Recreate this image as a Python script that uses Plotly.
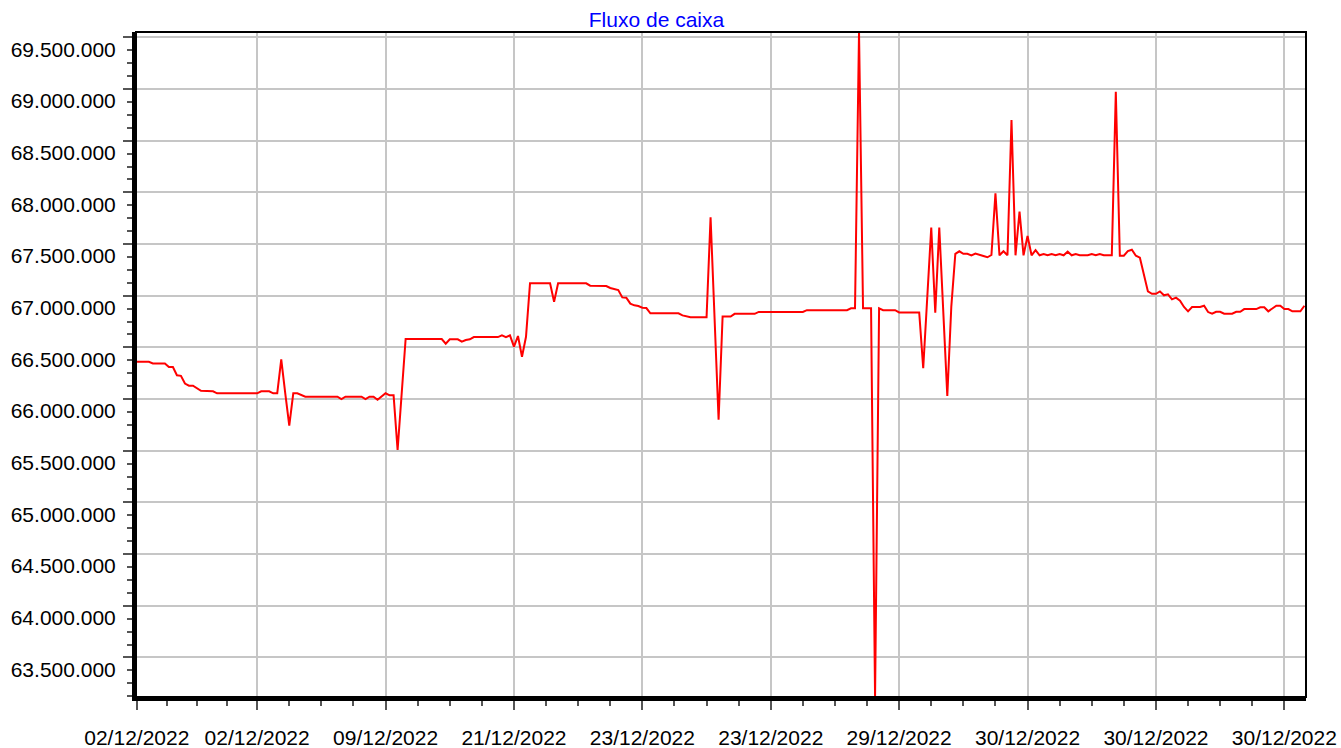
import plotly.graph_objects as go

# ---- data (vertices of the cash-flow line, x = sequential record index) ----
indice = [0, 3, 4, 7, 8, 9, 10, 11, 12, 13, 14, 16, 19, 20, 30, 31, 33, 34, 35, 36,
          37, 38, 39, 40, 42, 50, 51, 52, 56, 57, 58, 59, 60, 62, 63, 64, 65, 67, 76, 77,
          78, 80, 81, 82, 83, 84, 90, 91, 92, 93, 94, 95, 96, 97, 98, 103, 104, 105, 112, 113,
          117, 118, 120, 121, 122, 123, 124, 125, 126, 127, 128, 135, 136, 138, 142, 143, 145, 146, 148, 149,
          154, 155, 166, 167, 177, 178, 179, 180, 181, 183, 184, 185, 186, 189, 190, 195, 196, 198, 199, 200,
          202, 203, 204, 205, 206, 207, 208, 209, 211, 212, 213, 214, 215, 216, 217, 218, 219, 220, 221, 222,
          223, 224, 225, 226, 227, 228, 229, 230, 231, 232, 233, 234, 235, 237, 238, 239, 240, 241, 243, 244,
          245, 246, 247, 248, 249, 250, 252, 253, 254, 255, 256, 257, 258, 259, 260, 261, 262, 263, 265, 266,
          267, 268, 269, 270, 271, 273, 274, 275, 276, 279, 280, 281, 282, 283, 284, 285, 286, 287, 288, 290,
          291]

saldo = [66360000, 66360000, 66345000, 66345000, 66310000, 66310000, 66230000, 66225000, 66150000, 66130000,
         66130000, 66080000, 66075000, 66056000, 66056000, 66075000, 66075000, 66056000, 66056000, 66385000,
         66056000, 65742000, 66056000, 66056000, 66023000, 66023000, 66000000, 66023000, 66023000, 66000000,
         66023000, 66023000, 65994000, 66056000, 66036000, 66036000, 65507000, 66581000, 66581000, 66536000,
         66578000, 66578000, 66555000, 66571000, 66578000, 66600000, 66600000, 66617000, 66600000, 66617000,
         66507000, 66610000, 66410000, 66603000, 67120000, 67120000, 66942000, 67120000, 67120000, 67097000,
         67094000, 67075000, 67055000, 66984000, 66981000, 66923000, 66907000, 66900000, 66884000, 66881000,
         66830000, 66830000, 66810000, 66791000, 66791000, 67760000, 65800000, 66799000, 66799000, 66825000,
         66825000, 66843000, 66843000, 66860000, 66860000, 66878000, 66878000, 69552000, 66878000, 66878000,
         63117000, 66878000, 66860000, 66860000, 66838000, 66838000, 66300000, 67660000, 66835000, 67660000,
         66030000, 66895000, 67405000, 67430000, 67405000, 67405000, 67390000, 67408000, 67384000, 67372000,
         67394000, 67990000, 67391000, 67430000, 67391000, 68700000, 67391000, 67813000, 67391000, 67578000,
         67391000, 67442000, 67391000, 67403000, 67391000, 67403000, 67391000, 67403000, 67391000, 67426000,
         67391000, 67403000, 67391000, 67391000, 67403000, 67391000, 67403000, 67391000, 67391000, 68974000,
         67387000, 67387000, 67432000, 67445000, 67387000, 67368000, 67042000, 67019000, 67019000, 67042000,
         67004000, 67013000, 66965000, 66981000, 66952000, 66891000, 66849000, 66891000, 66891000, 66903000,
         66842000, 66826000, 66845000, 66845000, 66826000, 66826000, 66845000, 66845000, 66871000, 66871000,
         66888000, 66888000, 66849000, 66878000, 66903000, 66903000, 66871000, 66871000, 66849000, 66849000,
         66903000]

posicoes_x = [0, 30, 62, 94, 126, 158, 190, 222, 254, 286]
rotulos_x = ["02/12/2022", "02/12/2022", "09/12/2022", "21/12/2022", "23/12/2022",
             "23/12/2022", "29/12/2022", "30/12/2022", "30/12/2022", "30/12/2022"]

valores_y = [63500000, 64000000, 64500000, 65000000, 65500000, 66000000, 66500000,
             67000000, 67500000, 68000000, 68500000, 69000000, 69500000]
rotulos_y = [f"{v:,}".replace(",", ".") for v in valores_y]

titulo = "Fluxo de caixa"

# minor ticks: 3 between each pair of labelled ticks
minor_x = []
for a, b in zip(posicoes_x[:-1], posicoes_x[1:]):
    minor_x += [a + (b - a) * k / 4 for k in (1, 2, 3)]

FONT = "Liberation Sans, Arial, sans-serif"
GRID = "#c6c6c6"
TICK = "#555555"

fig = go.Figure()
fig.add_trace(go.Scatter(
    x=indice, y=saldo, mode="lines",
    line=dict(color="#ff0000", width=2),
    showlegend=False, hoverinfo="x+y",
))

fig.update_layout(
    width=1341, height=748,
    margin=dict(l=136, r=35, t=32, b=51, autoexpand=False),
    paper_bgcolor="white", plot_bgcolor="white",
    title=dict(text=titulo, x=656.5 / 1341, xref="container", xanchor="center",
               y=1 - 20 / 748, yref="container", yanchor="middle",
               font=dict(family=FONT, size=21, color="#0000ff")),
    xaxis=dict(
        range=[-0.2, 291.4],
        tickmode="array", tickvals=posicoes_x, ticktext=rotulos_x,
        ticks="outside", ticklen=9, tickwidth=2, tickcolor=TICK,
        showgrid=True, gridcolor=GRID, gridwidth=2,
        showline=True, linecolor="black", linewidth=4,
        zeroline=False, automargin=False,
        minor=dict(tickmode="array", tickvals=minor_x, ticks="outside",
                   ticklen=5, tickwidth=2, tickcolor=TICK, showgrid=False),
        tickfont=dict(family=FONT, size=21, color="black"),
        ticklabelstandoff=10,
    ),
    yaxis=dict(
        range=[min(saldo), max(saldo)],
        tickmode="array", tickvals=valores_y, ticktext=rotulos_y,
        ticks="outside", ticklen=9, tickwidth=2, tickcolor=TICK,
        showgrid=True, gridcolor=GRID, gridwidth=2,
        showline=True, linecolor="black", linewidth=4,
        zeroline=False, automargin=False,
        minor=dict(tickmode="linear", tick0=valores_y[0], dtick=125000,
                   ticks="outside", ticklen=5, tickwidth=2, tickcolor=TICK,
                   showgrid=False),
        tickfont=dict(family=FONT, size=21, color="black"),
        ticklabelshift=12,
        ticklabelstandoff=3,
    ),
    shapes=[dict(type="rect", xref="paper", yref="paper", x0=0, x1=1, y0=0, y1=1,
                 line=dict(color="black", width=2), fillcolor="rgba(0,0,0,0)",
                 layer="above")],
)

fig.write_html("out.html",
               config={"displayModeBar": False},
               post_script="document.body.style.margin='0';document.body.style.overflow='hidden';")
